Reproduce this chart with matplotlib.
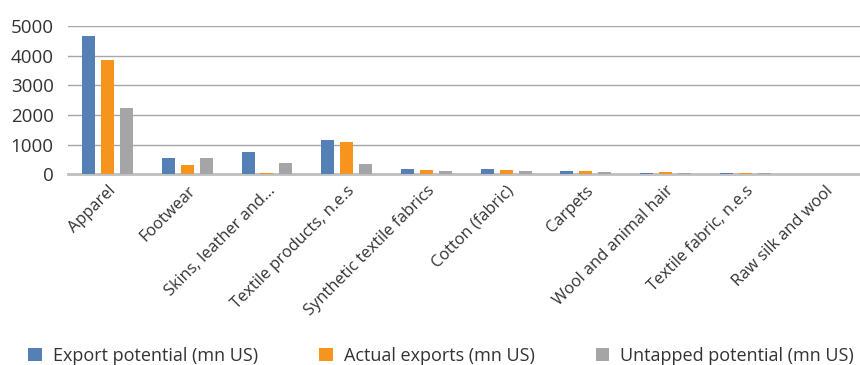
import numpy as np
import matplotlib.pyplot as plt

categories = ["Apparel", "Footwear", "Skins, leather and...", "Textile products, n.e.s",
              "Synthetic textile fabrics", "Cotton (fabric)", "Carpets",
              "Wool and animal hair", "Textile fabric, n.e.s", "Raw silk and wool"]
export_potential = [4650, 560, 760, 1160, 190, 190, 120, 60, 60, 5]
actual_exports = [3850, 320, 50, 1100, 160, 160, 120, 90, 40, 3]
untapped_potential = [2230, 560, 390, 350, 100, 100, 80, 50, 50, 3]

series = ["Export potential (mn US)", "Actual exports (mn US)", "Untapped potential (mn US)"]
colors = ["#5480b6", "#f7941d", "#a5a5a8"]

plt.rcParams['font.family'] = ['Open Sans', 'DejaVu Sans']

fig = plt.figure(figsize=(8.6, 3.65), dpi=100)
ax = fig.add_axes([0.0787, 0.522, 0.927, 0.407])

x = np.arange(len(categories))
w = 0.163
step = 0.238
for i, (vals, c, name) in enumerate(zip([export_potential, actual_exports, untapped_potential], colors, series)):
    ax.bar(x + (i - 1) * step, vals, width=w, color=c, label=name, zorder=3)

ax.set_xlim(-0.5, len(categories) - 0.5)
ax.set_ylim(0, 5000)
ax.set_yticks(range(0, 5001, 1000))
ax.yaxis.grid(True, color="#a6a6a6", linewidth=1.0, zorder=0)
for s in ["top", "right", "left"]:
    ax.spines[s].set_visible(False)
ax.spines["bottom"].set_color("#bfbfbf")
ax.spines["bottom"].set_linewidth(2)
ax.spines["bottom"].set_zorder(2)
ax.tick_params(axis="both", length=0, colors="#333333")
ax.tick_params(axis="y", labelsize=13.5, pad=10)
ax.set_xticks(x)
ax.set_xticklabels(categories, rotation=45, ha="right", rotation_mode="anchor",
                   fontsize=11.8, color="#333333")
ax.tick_params(axis="x", pad=6)

fig.legend(loc="lower center", bbox_to_anchor=(0.513, -0.045), ncol=3, frameon=False,
           fontsize=13, handlelength=0.75, handleheight=0.75, columnspacing=3.4,
           handletextpad=0.6, labelcolor="#333333")

fig.savefig("out.png", dpi=100)
